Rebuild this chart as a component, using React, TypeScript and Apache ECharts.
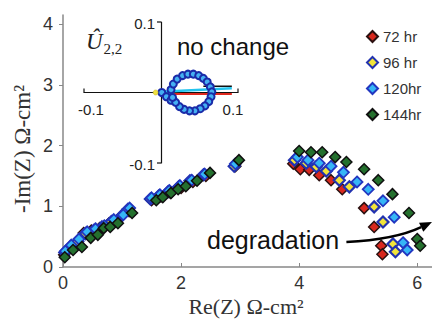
import React, { useEffect, useRef } from "react";
import * as echarts from "echarts";

// Main chart values (Re(Z), -Im(Z)) in Ω-cm²
const seriesNames = ["72 hr", "96 hr", "120hr", "144hr"];

const hf72 = [[0.02,0.2],[0.1,0.3],[0.22,0.4],[0.35,0.56],[0.48,0.6],[0.62,0.64],[0.78,0.72],[0.95,0.8],[1.12,0.92],[1.5,1.1],[1.66,1.16],[1.82,1.22],[2.0,1.3],[2.2,1.4],[2.42,1.5],[2.92,1.66]];
const lf72 = [[3.9,1.7],[4.02,1.61],[4.17,1.6],[4.34,1.51],[4.54,1.43],[4.73,1.28],[5.1,0.97],[5.27,0.66],[5.39,0.35],[5.41,0.21]];

const hf96 = [[0.03,0.24],[0.12,0.33],[0.25,0.42],[0.38,0.55],[0.52,0.6],[0.66,0.66],[0.82,0.75],[1.0,0.85],[1.1,0.95],[1.48,1.12],[1.62,1.17],[1.78,1.24],[1.96,1.32],[2.15,1.42],[2.38,1.52],[2.9,1.66]];
const lf96 = [[3.92,1.76],[4.12,1.71],[4.29,1.65],[4.46,1.58],[4.68,1.43],[4.85,1.32],[5.27,0.99],[5.42,0.74],[5.59,0.38],[5.63,0.25]];

const hf120 = [[0.04,0.26],[0.14,0.36],[0.27,0.46],[0.41,0.58],[0.55,0.63],[0.7,0.68],[0.86,0.78],[1.02,0.86],[1.13,0.97],[1.5,1.14],[1.64,1.19],[1.8,1.26],[1.98,1.34],[2.18,1.43],[2.4,1.53],[2.92,1.7]];
const lf120 = [[3.97,1.81],[4.15,1.76],[4.34,1.71],[4.54,1.66],[4.75,1.56],[4.98,1.4],[5.17,1.28],[5.42,1.09],[5.61,0.82],[5.76,0.4],[5.83,0.28]];

const hf144 = [[0.03,0.16],[0.17,0.28],[0.32,0.33],[0.47,0.48],[0.59,0.53],[0.69,0.64],[0.8,0.66],[0.93,0.72],[1.17,0.89],[1.58,1.1],[1.69,1.15],[1.83,1.22],[1.95,1.28],[2.08,1.33],[2.27,1.42],[2.49,1.55],[2.98,1.76]];
const lf144 = [[4.0,1.91],[4.2,1.89],[4.39,1.89],[4.61,1.81],[4.8,1.73],[5.1,1.61],[5.34,1.43],[5.58,1.2],[5.86,0.89],[6.0,0.46],[6.05,0.35]];

// Inset (Û 2,2)
const insetLoop = [[0.001,0.0],[0.007,-0.006],[0.013,-0.011],[0.013,0.004],[0.016,0.012],[0.021,0.019],[0.028,0.024],[0.035,0.026],[0.042,0.026],[0.049,0.024],[0.055,0.02],[0.06,0.015],[0.064,0.008],[0.066,0.001],[0.065,-0.006],[0.062,-0.013],[0.057,-0.019],[0.051,-0.023],[0.044,-0.026],[0.037,-0.026],[0.03,-0.024],[0.024,-0.02],[0.019,-0.014],[0.015,-0.007]];
const insetOrigin = [[-0.007,0.0]];
const insetCyan = [[0.0,0.001],[0.092,0.006]];
const insetRed = [[0.012,-0.002],[0.092,-0.002]];
const insetBlack = [[0.055,0.009],[0.092,0.009]];

const xTicksMain = [0, 2, 4, 6];
const yTicksMain = [0, 1, 2, 3, 4];
const insetTicks = [-0.1, 0.1];
const insetTickLabels = ["-0.1", "0.1"];

// arrow annotation in data coordinates
const arrowStart = [4.8, 0.41];
const arrowCtrl = [5.62, 0.45];
const arrowEnd = [6.25, 0.74];

export default function App() {
  const ref = useRef<HTMLDivElement>(null);
  useEffect(() => {
    const chart = echarts.init(ref.current!, null, { renderer: "svg" });
    const sans = "Liberation Sans";
    const serif = "Liberation Serif";
    const mk = (name: string, data: number[][], color: string, border: string, bw: number) => ({
      type: "scatter",
      name,
      data,
      xAxisIndex: 0,
      yAxisIndex: 0,
      symbol: "diamond",
      symbolSize: 11,
      itemStyle: { color, borderColor: border, borderWidth: bw, opacity: 1 },
      z: 3,
    });
    const option: any = {
      animation: false,
      backgroundColor: "#ffffff",
      legend: {
        data: seriesNames,
        orient: "vertical",
        left: 361,
        top: 24,
        itemWidth: 11,
        itemHeight: 11,
        itemGap: 11,
        textStyle: { fontFamily: sans, fontSize: 15, color: "#333" },
      },
      grid: [
        { left: 63, top: 15, width: 369, height: 252 },
        { left: 84, top: 22, width: 154, height: 141 },
      ],
      xAxis: [
        {
          gridIndex: 0, type: "value", min: 0, max: 6.25, interval: 2,
          axisLine: { onZero: false, lineStyle: { color: "#888", width: 1.5 } },
          axisTick: { inside: true, length: 4, lineStyle: { color: "#888" }, customValues: xTicksMain },
          axisLabel: { fontFamily: sans, fontSize: 18, color: "#333", margin: 7, customValues: xTicksMain },
          splitLine: { show: false },
        },
        {
          gridIndex: 1, type: "value", min: -0.1, max: 0.1, interval: 0.1,
          axisLine: { onZero: true, lineStyle: { color: "#111", width: 1.2 } },
          axisTick: { show: false },
          axisLabel: { show: false },
          splitLine: { show: false },
        },
      ],
      yAxis: [
        {
          gridIndex: 0, type: "value", min: 0, max: 4.15, interval: 1,
          axisLine: { onZero: false, lineStyle: { color: "#888", width: 1.5 } },
          axisTick: { inside: false, length: 4, lineStyle: { color: "#888" }, customValues: yTicksMain },
          axisLabel: { fontFamily: sans, fontSize: 18, color: "#333", margin: 10, customValues: yTicksMain },
          splitLine: { show: false },
        },
        {
          gridIndex: 1, type: "value", min: -0.1, max: 0.1, interval: 0.1,
          axisLine: { onZero: true, lineStyle: { color: "#111", width: 1.2 } },
          axisTick: { show: false },
          axisLabel: { show: false },
          splitLine: { show: false },
        },
      ],
      series: [
        mk(seriesNames[0], [...hf72, ...lf72], "#d8281e", "#2a1010", 1.5),
        mk(seriesNames[1], [...hf96, ...lf96], "#f2e43a", "#2232b0", 2.2),
        mk(seriesNames[2], [...hf120, ...lf120], "#35b6f6", "#2236c0", 1.8),
        mk(seriesNames[3], [...hf144, ...lf144], "#24702e", "#101010", 1.5),
        {
          type: "line", xAxisIndex: 1, yAxisIndex: 1, data: insetBlack, showSymbol: false,
          lineStyle: { color: "#111", width: 1.5 }, z: 4,
        },
        {
          type: "line", xAxisIndex: 1, yAxisIndex: 1, data: insetRed, showSymbol: false,
          lineStyle: { color: "#e0281e", width: 2 }, z: 4,
        },
        {
          type: "line", xAxisIndex: 1, yAxisIndex: 1, data: insetCyan, showSymbol: false,
          lineStyle: { color: "#22c4ee", width: 2.5 }, z: 4,
        },
        {
          type: "scatter", xAxisIndex: 1, yAxisIndex: 1, data: insetLoop, symbol: "circle", symbolSize: 7,
          itemStyle: { color: "#45b0f2", borderColor: "#1a2ba8", borderWidth: 2, opacity: 1 }, z: 5,
        },
        {
          type: "scatter", xAxisIndex: 1, yAxisIndex: 1, data: insetOrigin, symbol: "circle", symbolSize: 5,
          itemStyle: { color: "#f0e040", borderColor: "#c0b020", borderWidth: 0.5, opacity: 1 }, z: 6,
        },
      ],
    };
    chart.setOption(option);

    const px = (g: number, v: number[]) => chart.convertToPixel({ gridIndex: g }, v) as number[];

    // arrow
    const p0 = px(0, arrowStart);
    const pc = px(0, arrowCtrl);
    const p1 = px(0, arrowEnd);
    const dx = p1[0] - pc[0];
    const dy = p1[1] - pc[1];
    const len = Math.hypot(dx, dy);
    const ux = dx / len, uy = dy / len;
    const hl = 12, hw = 5;
    const bx = p1[0] - ux * hl, by = p1[1] - uy * hl;
    const head = [
      [p1[0], p1[1]],
      [bx - uy * hw, by + ux * hw],
      [bx + uy * hw, by - ux * hw],
    ];

    // inset ticks and labels
    const insetGraphics: any[] = [];
    insetTicks.forEach((v, i) => {
      const xp = px(1, [v, 0]);
      insetGraphics.push({
        type: "line", z: 10,
        shape: { x1: xp[0], y1: xp[1], x2: xp[0], y2: xp[1] - 4 },
        style: { stroke: "#111", lineWidth: 1.2 },
      });
      insetGraphics.push({
        type: "text", z: 10, x: xp[0] + (v < 0 ? 7 : -5), y: xp[1] + 17,
        style: { text: insetTickLabels[i], fontFamily: sans, fontSize: 15, fill: "#222", align: "center", verticalAlign: "middle" },
      });
      const yp = px(1, [0, v]);
      insetGraphics.push({
        type: "line", z: 10,
        shape: { x1: yp[0], y1: yp[1], x2: yp[0] - 4, y2: yp[1] },
        style: { stroke: "#111", lineWidth: 1.2 },
      });
      insetGraphics.push({
        type: "text", z: 10, x: yp[0] - 6, y: yp[1] + 1,
        style: { text: insetTickLabels[i], fontFamily: sans, fontSize: 15, fill: "#222", align: "right", verticalAlign: "middle" },
      });
    });

    chart.setOption({
      graphic: [
        ...insetGraphics,
        {
          type: "text", left: 177, top: 34, z: 10,
          style: { text: "no change", fontFamily: sans, fontSize: 24, fill: "#111" },
        },
        {
          type: "text", left: 207, top: 227, z: 10,
          style: { text: "degradation", fontFamily: sans, fontSize: 25, fill: "#111" },
        },
        {
          type: "text", left: 86, top: 30, z: 10,
          style: {
            text: "{u|Û}{s|2,2}",
            rich: {
              u: { fontFamily: serif, fontStyle: "italic", fontSize: 23, fill: "#222" },
              s: { fontFamily: serif, fontSize: 15, fill: "#222", padding: [14, 0, 0, 1] },
            },
          },
        },
        {
          type: "text", x: 246, y: 306, z: 10,
          style: { text: "Re(Z) Ω-cm²", fontFamily: serif, fontSize: 22, fill: "#333", align: "center", verticalAlign: "middle" },
        },
        {
          type: "text", x: 22, y: 149, rotation: Math.PI / 2, z: 10,
          style: { text: "-Im(Z) Ω-cm²", fontFamily: serif, fontSize: 23, fill: "#333", align: "center", verticalAlign: "middle" },
        },
        {
          type: "bezierCurve", z: 10,
          shape: { x1: p0[0], y1: p0[1], x2: bx, y2: by, cpx1: pc[0], cpy1: pc[1] },
          style: { stroke: "#000", lineWidth: 2.5, fill: null },
        },
        {
          type: "polygon", z: 10,
          shape: { points: head },
          style: { fill: "#000" },
        },
      ],
    });
    return () => chart.dispose();
  }, []);
  return (
    <div
      ref={ref}
      style={{ position: "absolute", left: 0, top: 0, width: 432, height: 323, background: "#fff" }}
    />
  );
}
